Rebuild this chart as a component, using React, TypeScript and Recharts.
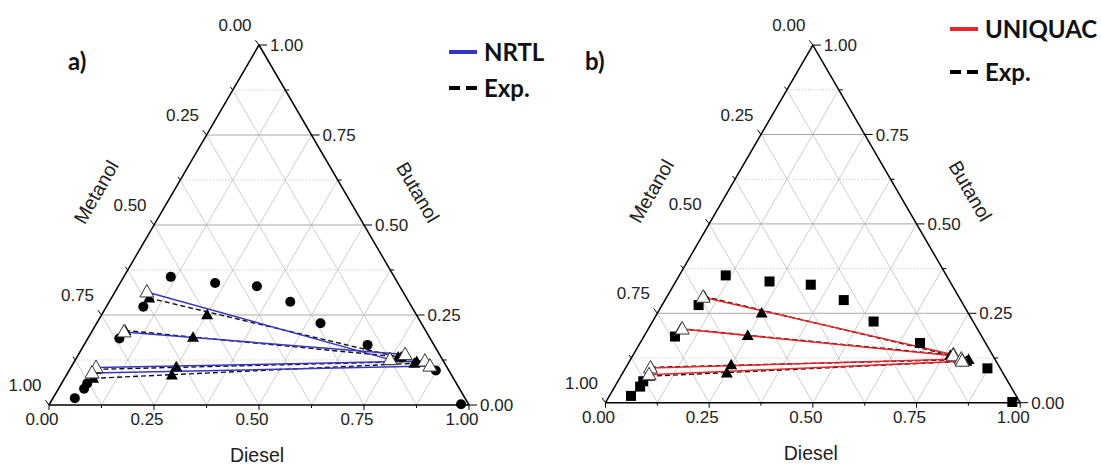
import React from 'react';
import { ScatterChart, Scatter, XAxis, YAxis, ReferenceLine } from 'recharts';

// compositions as [diesel, butanol]; metanol = 1 - diesel - butanol
type Comp = [number, number];

const axisTicks = [0, 0.125, 0.25, 0.375, 0.5, 0.625, 0.75, 0.875, 1];
const gridSteps = [0.125, 0.25, 0.375, 0.5, 0.625, 0.75, 0.875];

// experimental binodal points (same data in both panels)
const binodalExp: Comp[] = [
  [0.052, 0.019], [0.061, 0.045], [0.061, 0.06], [0.075, 0.185], [0.088, 0.273],
  [0.112, 0.356], [0.226, 0.339], [0.33, 0.33], [0.431, 0.287], [0.533, 0.227],
  [0.675, 0.167], [0.873, 0.096], [0.98, 0.002],
];

// experimental tie lines (metanol-rich end, diesel-rich end) and feed points
const expTies: Comp[][] = [
  [[0.09, 0.297], [0.765, 0.133]],
  [[0.078, 0.207], [0.772, 0.133]],
  [[0.061, 0.099], [0.815, 0.121]],
  [[0.068, 0.074], [0.812, 0.116]],
];
const feeds: Comp[] = [[0.251, 0.251], [0.249, 0.188], [0.25, 0.106], [0.251, 0.083]];

// calculated tie lines
const nrtlTies: Comp[][] = [
  [[0.076, 0.314], [0.749, 0.126]],
  [[0.077, 0.203], [0.778, 0.14]],
  [[0.06, 0.104], [0.834, 0.122]],
  [[0.058, 0.089], [0.853, 0.108]],
];
const uniquacTies: Comp[][] = [
  [[0.088, 0.295], [0.772, 0.134]],
  [[0.082, 0.206], [0.773, 0.131]],
  [[0.06, 0.097], [0.797, 0.122]],
  [[0.066, 0.078], [0.802, 0.116]],
];

const W = 550;
const H = 465;
const FONT = '"Liberation Sans", Arial, sans-serif';
const BOLD = 'Lato, "Open Sans", sans-serif';

const toXY = ([d, b]: Comp) => ({ x: d + b / 2, y: b });

interface Geo { left: number; bottom: number; w: number; h: number }

const Circle = (p: any) => <circle cx={p.cx} cy={p.cy} r={5} fill="#000" />;
const Square = (p: any) => <rect x={p.cx - 5} y={p.cy - 5} width={10} height={10} fill="#000" />;
const OpenTri = (p: any) => (
  <polygon
    points={`${p.cx},${p.cy - 7.5} ${p.cx + 7},${p.cy + 5} ${p.cx - 7},${p.cy + 5}`}
    fill="#fff" stroke="#333" strokeWidth={1}
  />
);
const FilledTri = (p: any) => (
  <polygon points={`${p.cx},${p.cy - 6} ${p.cx + 6},${p.cy + 4.5} ${p.cx - 6},${p.cy + 4.5}`} fill="#000" />
);
const Nothing = () => <g />;

const BottomTick = (p: any) => {
  const { cx, cy, payload } = p;
  return (
    <g>
      <line x1={cx} y1={cy} x2={cx} y2={cy + (payload.major ? 5 : 3)} stroke="#000" />
      {payload.major && (
        <text x={cx - 7} y={cy + 20} textAnchor="middle" fontSize={17} fontFamily={FONT} fill="#222">
          {payload.v.toFixed(2)}
        </text>
      )}
    </g>
  );
};
const RightTick = (p: any) => {
  const { cx, cy, payload } = p;
  return (
    <g>
      <line x1={cx} y1={cy} x2={cx + (payload.major ? 8 : 4)} y2={cy} stroke="#000" />
      {payload.major && (
        <text x={cx + 11} y={cy + 6} textAnchor="start" fontSize={17} fontFamily={FONT} fill="#222">
          {payload.v.toFixed(2)}
        </text>
      )}
    </g>
  );
};
const LeftTick = (p: any) => {
  const { cx, cy, payload } = p;
  const len = payload.major ? 6 : 4;
  return (
    <g>
      <line x1={cx} y1={cy} x2={cx - len * 0.6} y2={cy - len * 0.8} stroke="#000" />
      {payload.major && (
        <text x={cx - 24} y={cy - 14} textAnchor="middle" fontSize={17} fontFamily={FONT} fill="#222">
          {payload.v.toFixed(2)}
        </text>
      )}
    </g>
  );
};
const AxisTitle = (p: any) => {
  const { cx, cy, payload } = p;
  return (
    <text
      transform={`translate(${cx + payload.dx},${cy + payload.dy}) rotate(${payload.angle})`}
      textAnchor="middle" dy="0.36em" fontSize={19.5} fontFamily={FONT} fill="#222"
    >
      {payload.text}
    </text>
  );
};

interface PanelProps {
  geo: Geo;
  marker: (p: any) => React.ReactElement;
  ties: Comp[][];
  color: string;
  tag: string;
  tagX: number;
  legendName: string;
  legendX: number;
  legendY: number;
  legendGap: number;
}

function TernaryPanel({ geo, marker, ties, color, tag, tagX, legendName, legendX, legendY, legendGap }: PanelProps) {
  const xMin = -geo.left / geo.w;
  const xMax = xMin + W / geo.w;
  const yMax = 1 + (geo.bottom - geo.h) / geo.h;
  const yMin = yMax - H / geo.h;

  const bottomTicks = axisTicks.map((v, i) => ({ ...toXY([v, 0]), v, major: i % 2 === 0 }));
  const rightTicks = axisTicks.map((v, i) => ({ ...toXY([1 - v, v]), v, major: i % 2 === 0 }));
  const leftTicks = axisTicks.map((v, i) => ({ ...toXY([0, 1 - v]), v, major: i % 2 === 0 }));
  const titles = [
    { ...toXY([0.5, 0]), text: 'Diesel', dx: -2, dy: 50, angle: 0 },
    { ...toXY([0, 0.5]), text: 'Metanol', dx: -58, dy: -33, angle: -60 },
    { ...toXY([0.5, 0.5]), text: 'Butanol', dx: 54, dy: -33, angle: 60 },
  ];

  const seg = (a: Comp, b: Comp) => [toXY(a), toXY(b)];
  const grid: { s: { x: number; y: number }[]; style: any }[] = [];
  gridSteps.forEach((g, i) => {
    const major = i % 2 === 1;
    // constant butanol
    grid.push({
      s: seg([0, g], [1 - g, g]),
      style: major ? { stroke: '#a8a8a8', strokeWidth: 1 } : { stroke: '#bdbdbd', strokeWidth: 1, strokeDasharray: '1 2' },
    });
    // constant diesel
    grid.push({ s: seg([g, 0], [g, 1 - g]), style: { stroke: '#c0c0c0', strokeWidth: 0.8 } });
    // constant metanol
    grid.push({ s: seg([1 - g, 0], [0, 1 - g]), style: { stroke: '#c0c0c0', strokeWidth: 0.8 } });
  });
  const frame = [seg([0, 0], [1, 0]), seg([1, 0], [0, 1]), seg([0, 1], [0, 0])];

  return (
    <div style={{ position: 'relative', width: W, height: H }}>
      <ScatterChart width={W} height={H} margin={{ top: 0, right: 0, bottom: 0, left: 0 }}>
        <XAxis type="number" dataKey="x" domain={[xMin, xMax]} hide />
        <YAxis type="number" dataKey="y" domain={[yMin, yMax]} hide />
        {grid.map((g, i) => (
          <ReferenceLine key={`g${i}`} segment={g.s} {...g.style} />
        ))}
        {frame.map((f, i) => (
          <ReferenceLine key={`f${i}`} segment={f} stroke="#000" strokeWidth={1.5} />
        ))}
        {expTies.map((t, i) => (
          <Scatter key={`e${i}`} data={t.map(toXY)} shape={Nothing} isAnimationActive={false}
            line={{ stroke: '#111', strokeWidth: 1.4, strokeDasharray: '5 3' }} />
        ))}
        {ties.map((t, i) => (
          <Scatter key={`m${i}`} data={t.map(toXY)} shape={Nothing} isAnimationActive={false}
            line={{ stroke: color, strokeWidth: 1.5 }} />
        ))}
        <Scatter data={binodalExp.map(toXY)} shape={marker} isAnimationActive={false} />
        <Scatter data={expTies.flat().map(toXY)} shape={FilledTri} isAnimationActive={false} />
        <Scatter data={ties.flat().map(toXY)} shape={OpenTri} isAnimationActive={false} />
        <Scatter data={feeds.map(toXY)} shape={FilledTri} isAnimationActive={false} />
        <Scatter data={bottomTicks} shape={BottomTick} isAnimationActive={false} />
        <Scatter data={rightTicks} shape={RightTick} isAnimationActive={false} />
        <Scatter data={leftTicks} shape={LeftTick} isAnimationActive={false} />
        <Scatter data={titles} shape={AxisTitle} isAnimationActive={false} />
      </ScatterChart>
      <svg width={W} height={H} style={{ position: 'absolute', left: 0, top: 0, pointerEvents: 'none' }}>
        <text x={tagX} y={70} fontSize={24} fontWeight={700} fontFamily={BOLD} fill="#111">{tag}</text>
        <line x1={legendX} y1={legendY} x2={legendX + 28} y2={legendY} stroke={color} strokeWidth={4} />
        <text x={legendX + 35} y={legendY + 9} fontSize={24} fontWeight={700} fontFamily={BOLD} fill="#111">{legendName}</text>
        <line x1={legendX} y1={legendY + legendGap} x2={legendX + 28} y2={legendY + legendGap}
          stroke="#000" strokeWidth={4} strokeDasharray="11 6" />
        <text x={legendX + 35} y={legendY + legendGap + 9} fontSize={24} fontWeight={700} fontFamily={BOLD} fill="#111">Exp.</text>
      </svg>
    </div>
  );
}

export default function App() {
  return (
    <div style={{ position: 'absolute', left: 0, top: 0, width: 1101, height: 465, background: '#fff', display: 'flex' }}>
      <TernaryPanel
        geo={{ left: 49, bottom: 405, w: 420, h: 360 }}
        marker={Circle} ties={nrtlTies} color="#3636c2"
        tag="a)" tagX={68} legendName="NRTL" legendX={449} legendY={52} legendGap={36}
      />
      <TernaryPanel
        geo={{ left: 55.5, bottom: 402.7, w: 414.7, h: 357.6 }}
        marker={Square} ties={uniquacTies} color="#e5262b"
        tag="b)" tagX={35} legendName="UNIQUAC" legendX={400} legendY={29} legendGap={43}
      />
    </div>
  );
}
